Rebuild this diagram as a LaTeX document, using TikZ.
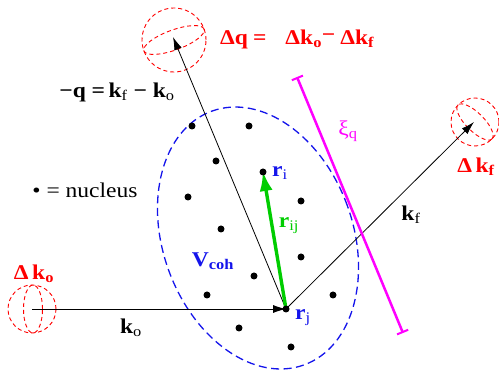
\documentclass[tikz,border=0pt]{standalone}
\usepackage{fontspec}
\setmainfont{Liberation Serif}[FakeStretch=1.12]
\usetikzlibrary{arrows.meta}
\definecolor{cred}{RGB}{255,0,0}
\definecolor{cblue}{RGB}{20,20,235}
\definecolor{cgreen}{RGB}{0,205,0}
\definecolor{cmag}{RGB}{255,0,255}
\newcommand\sbs[1]{\textsubscript{#1}}
\pgfdeclarelayer{bg}
\pgfsetlayers{bg,main}
\begin{document}
\begin{tikzpicture}[x=1pt,y=-1pt,
  nuc/.style={circle,fill=black,inner sep=0pt,minimum size=7pt},
  sph/.style={draw=cred,dash pattern=on 4pt off 3pt,line width=0.9pt},
  thinarrow/.style={draw=black,line width=0.8pt,-{Latex[length=13pt,width=8pt]}},
  lbl/.style={inner sep=0pt,font=\fontsize{21}{24}\selectfont},
  coh/.style={draw=cblue,dash pattern=on 8pt off 4.5pt,line width=1.3pt},
]
\useasboundingbox (0,0) rectangle (499,371);
% nuclei
\node[nuc] (rj) at (286,309) {};
\node[nuc] (ri) at (263,172) {};
\node[nuc] (n1) at (192,126) {};
\node[nuc] (n2) at (249,126) {};
\node[nuc] (n3) at (216,161) {};
\node[nuc] (n4) at (188,197) {};
\node[nuc] (n5) at (301,201) {};
\node[nuc] (n6) at (221,229) {};
\node[nuc] (n7) at (301,257) {};
\node[nuc] (n8) at (254,276) {};
\node[nuc] (n9) at (207,295) {};
\node[nuc] (n10) at (333,295) {};
\node[nuc] (n11) at (239,328) {};
\node[nuc] (n12) at (291,347) {};
% sphere centres
\coordinate (cleft) at (32,309);
\coordinate (ctop) at (173,37);
\coordinate (cright) at (474,122);
\coordinate (cohc) at (258,238);
\begin{pgfonlayer}{bg}
% spheres
\draw[sph] (cleft) circle[radius=24pt];
\draw[sph] ([xshift=1pt]cleft) ellipse[x radius=9.5pt,y radius=24pt];
\draw[sph] (174,40) circle[radius=32pt];
\draw[sph,rotate around={20:(174,40)}] (174,40) ellipse[x radius=32pt,y radius=10pt];
\draw[sph] (475,122) circle[radius=24pt];
\draw[sph,rotate around={-45:(475,122)}] (475,122) ellipse[x radius=24pt,y radius=9pt];
% coherence volume
\draw[coh,rotate around={20:(cohc)}] (cohc) ellipse[x radius=95pt,y radius=135pt];
% wave vectors
\draw[thinarrow] (cleft) -- (rj.center);
\draw[thinarrow] (rj.center) -- (ctop);
\draw[thinarrow] (rj.center) -- (cright);
\draw[cgreen,line width=3.4pt,-{Latex[length=20pt,width=13pt]},shorten >=-1pt] (rj.center) -- (ri.center);
% coherence length
\coordinate (xa) at (297,77);
\coordinate (xb) at (403,333);
\draw[cmag,line width=2.5pt,{Bar[width=12pt,line width=2pt]}-{Bar[width=12pt,line width=2pt]}] (xa) -- (xb);
\end{pgfonlayer}
% labels
\node[lbl,text=cred,font=\fontsize{21}{24}\selectfont\bfseries,anchor=west] (dq) at (220,39) {Δq\hspace{5pt}=\hspace{19pt}Δk\sbs{o}\raisebox{3pt}{−}\hspace{5pt}Δk\sbs{f}};
\node[lbl] (mq) at (117,92) {\textbf{−q =\,k}\sbs{f} \textbf{− k}\sbs{o}};
\node[lbl] (leg) at (85,190) {• = nucleus};
\node[lbl,text=cred,font=\fontsize{21}{24}\selectfont\bfseries] (dko) at (34,274) {Δ\,k\sbs{o}};
\node[lbl] (ko) at (131,328) {\textbf{k}\sbs{o}};
\node[lbl] (kf) at (411,215) {\textbf{k}\sbs{f}};
\node[lbl,text=cred,font=\fontsize{21}{24}\selectfont\bfseries] (dkf) at (476,167) {Δ\,k\sbs{f}};
\node[lbl,text=cmag] (xi) at (348,131) {ξ\sbs{q}};
\node[lbl,text=cblue] (lri) at (280,173) {\textbf{r}\sbs{i}};
\node[lbl,text=cgreen] (lrij) at (289,226) {\textbf{r}\sbs{ij}};
\node[lbl,text=cblue] (vcoh) at (213,261) {\textbf{V\sbs{coh}}};
\node[lbl,text=cblue] (lrj) at (303,318) {\textbf{r}\sbs{j}};
\end{tikzpicture}
\end{document}
